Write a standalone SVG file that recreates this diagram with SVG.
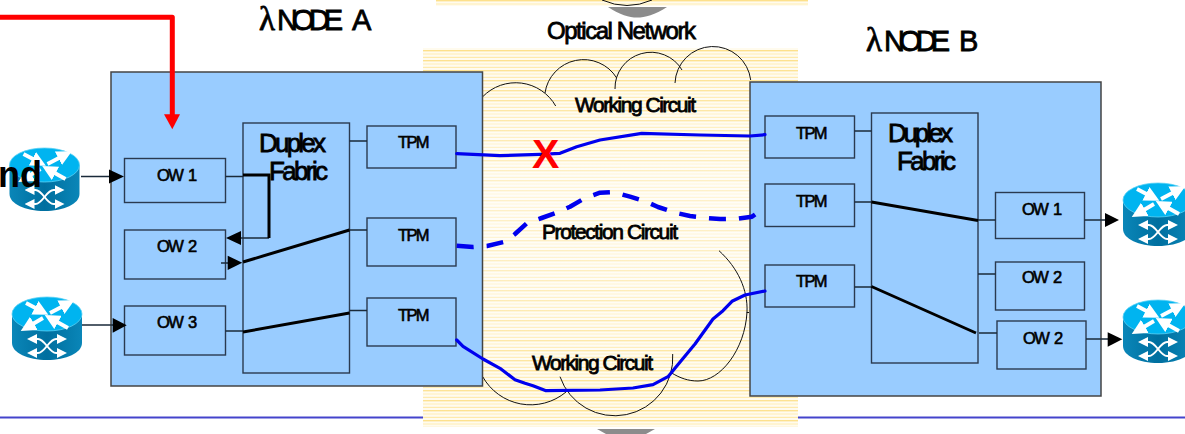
<svg xmlns="http://www.w3.org/2000/svg" width="1185" height="434" viewBox="0 0 1185 434">
<style>
text{font-family:"Liberation Sans",Arial,sans-serif;fill:#000;stroke:#000;stroke-width:.8px}
.node{fill:#99ccff;stroke:#444;stroke-width:1.5}
.box{fill:#99ccff;stroke:#2a3a50;stroke-width:1.4}
.thin{fill:none;stroke:#1a2a3a;stroke-width:1.3}
.thick{fill:none;stroke:#000;stroke-width:3}
.ar{fill:#000}
.arc{fill:none;stroke:#111;stroke-width:1}
.blue{fill:none;stroke:#0000ee;stroke-width:3.2;stroke-linejoin:round;stroke-linecap:round}
.sm{font-size:16.500px;letter-spacing:-1.700px;word-spacing:3px;stroke-width:.6px}
.md{font-size:21px}
.lg{font-size:26px}
.xl{font-size:29px}
.lam{font-family:"Liberation Serif",serif;font-size:33px}
</style>
<defs>
<pattern id="st" width="10" height="10" patternUnits="userSpaceOnUse">
<rect width="10" height="10" fill="#fffbee"/>
<rect y="0" width="10" height="1.4" fill="#fde08a"/>
<rect y="3.4" width="10" height="1.2" fill="#fff0bd"/>
<rect y="6.8" width="10" height="1.2" fill="#fee9a8"/>
</pattern>
<linearGradient id="fade" x1="0" y1="0" x2="0" y2="1">
<stop offset="0" stop-color="#fff" stop-opacity="0"/>
<stop offset=".38" stop-color="#fff" stop-opacity=".55"/>
<stop offset=".6" stop-color="#fff" stop-opacity=".45"/>
<stop offset="1" stop-color="#fff" stop-opacity="0"/>
</linearGradient>
<marker id="wa" markerWidth="4" markerHeight="4" refX="2.4" refY="2" orient="auto" markerUnits="strokeWidth"><path d="M0,0L4,2L0,4Z" fill="#fff"/></marker>
<marker id="wb" markerWidth="5" markerHeight="5" refX="2.5" refY="2.5" orient="auto-start-reverse" markerUnits="strokeWidth"><path d="M0,0L5,2.5L0,5Z" fill="#fff"/></marker>
<linearGradient id="side" x1="0" y1="0" x2="1" y2="0">
<stop offset="0" stop-color="#0a86b8"/><stop offset=".5" stop-color="#006f9f"/><stop offset="1" stop-color="#0a86b8"/>
</linearGradient>
<g id="router">
<path d="M0,17V46C0,56 16,63 35,63S70,56 70,46V17Z" fill="url(#side)"/>
<ellipse cx="35" cy="17" rx="35" ry="17" fill="#00b4f0" stroke="#5cd2f5" stroke-width=".8"/>
<g fill="none" stroke="#fff" stroke-width="3.8" marker-end="url(#wa)">
<path d="M14,6L31,15"/><path d="M38,16L57,6"/><path d="M31,21L14,31"/><path d="M56,31L38,21"/>
</g>
<g fill="none" stroke="#fff" stroke-width="2" marker-end="url(#wb)" marker-start="url(#wb)">
<path d="M20,42H26C33,42 37,56 44,56H50"/><path d="M20,56H26C33,56 37,42 44,42H50"/>
</g>
</g>
</defs>

<g id="optical-network">
<rect x="436" y="0" width="372" height="6" fill="url(#st)"/>
<rect x="423" y="48" width="375" height="379" fill="url(#st)"/>
<rect x="423" y="48" width="375" height="379" fill="url(#fade)"/>
<path d="M608,7H667C655,15 645,17.500 637,17.500C629,17.500 620,15 608,7Z" fill="#8c8c8c"/>
<path d="M597,429H655L646,434H606Z" fill="#8c8c8c"/>
<path class="arc" d="M602,0Q627,11 652,0"/>
<path class="arc" d="M482.700,96.700A46,46 0 0 1 555.700,106"/>
<path class="arc" d="M545,93A39,39 0 0 1 616.700,78"/>
<path class="arc" d="M615,89A36,36 0 0 1 682,70"/>
<path class="arc" d="M675,83A38,38 0 0 1 750.700,80"/>
<path class="arc" d="M719,250.700C738,268 748,290 747,312C745,350 720,381 698,381C688,381 680,378 671.700,373"/>
<path class="arc" d="M746.700,312.500H749"/>
<path class="arc" d="M672.700,354A58,58 0 0 1 560,376.700"/>
<path class="arc" d="M482.700,376.700A55,55 0 0 0 566,392"/>
</g>

<path d="M0,417.500H423M798,417.500H1185" fill="none" stroke="#4444cc" stroke-width="2"/>

<g id="node-a">
<rect class="node" x="111" y="72" width="371.500" height="314"/>
<text class="xl" x="259" y="29.500"><tspan class="lam">λ</tspan><tspan x="277" textLength="66" lengthAdjust="spacing">NODE</tspan> <tspan x="352">A</tspan></text>
</g>
<g id="fabric-a"><rect class="box" x="243" y="123" width="106.500" height="250"/>
<text class="lg" x="259" y="151.700" textLength="67" lengthAdjust="spacing">Duplex</text>
<text class="lg" x="269" y="180" textLength="59" lengthAdjust="spacing">Fabric</text></g>
<g id="a-ow1"><rect class="box" x="124.500" y="158.500" width="101" height="44"/><text class="sm" x="157" y="181">OW 1</text></g>
<g id="a-ow2"><rect class="box" x="124.500" y="230" width="101" height="49"/><text class="sm" x="157" y="251.700">OW 2</text></g>
<g id="a-ow3"><rect class="box" x="124.500" y="306" width="101" height="49"/><text class="sm" x="157" y="328">OW 3</text></g>
<g id="a-tpm1"><rect class="box" x="367" y="126" width="89" height="42"/><text class="sm" x="398" y="147.500">TPM</text></g>
<g id="a-tpm2"><rect class="box" x="367" y="218" width="89" height="48"/><text class="sm" x="398" y="240.700">TPM</text></g>
<g id="a-tpm3"><rect class="box" x="367" y="298" width="89" height="48"/><text class="sm" x="398" y="320.700">TPM</text></g>

<g id="node-b">
<rect class="node" x="750" y="82" width="351" height="314"/>
<text class="xl" x="866" y="50.700"><tspan class="lam">λ</tspan><tspan x="884" textLength="66" lengthAdjust="spacing">NODE</tspan> <tspan x="959">B</tspan></text>
</g>
<g id="fabric-b"><rect class="box" x="871.500" y="113" width="106.500" height="250"/>
<text class="lg" x="888" y="141.700" textLength="65" lengthAdjust="spacing">Duplex</text>
<text class="lg" x="897" y="170" textLength="59" lengthAdjust="spacing">Fabric</text></g>
<g id="b-tpm1"><rect class="box" x="765" y="116" width="89.500" height="42"/><text class="sm" x="796" y="139">TPM</text></g>
<g id="b-tpm2"><rect class="box" x="765" y="184" width="89.500" height="42.500"/><text class="sm" x="796" y="206.700">TPM</text></g>
<g id="b-tpm3"><rect class="box" x="765" y="265" width="89.500" height="42"/><text class="sm" x="796" y="286.700">TPM</text></g>
<g id="b-ow1"><rect class="box" x="995.500" y="192.500" width="89" height="46"/><text class="sm" x="1022" y="215">OW 1</text></g>
<g id="b-ow2"><rect class="box" x="995.500" y="262" width="89" height="48"/><text class="sm" x="1022" y="283.300">OW 2</text></g>
<g id="b-ow2b"><rect class="box" x="997" y="321" width="89" height="48"/><text class="sm" x="1023" y="344">OW 2</text></g>

<g id="router-1"><use href="#router" x="9.500" y="148"/></g>
<g id="router-2"><use href="#router" x="12" y="297"/></g>
<g id="router-3"><use href="#router" x="1123" y="183"/></g>
<g id="router-4"><use href="#router" x="1123" y="300"/></g>

<g id="connectors">
<path class="thin" d="M81,176.500H110M225.500,176.500H243M349.500,141H367M221,263H228M225.500,331H243M349.500,230H367M349.500,310.500H367M82,325H113M240,238H269M854.500,131H871.500M854.500,202H871.500M978,220H995.500M1084.500,220H1105M854.500,287H871.500M979,333H997M1086,339H1108M978,274H995.500"/>
<path class="thick" d="M243,175H269V238"/>
<path class="thick" d="M243,262L349.500,230M243,332L349.500,313M871.500,202L978,220.500M871.500,286.500L976,333"/>
<path class="ar" d="M109,169.500V183.500L124,176.500Z"/>
<path class="ar" d="M226,238L241,231V245Z"/>
<path class="ar" d="M227.700,255.700V270L242.300,262.700Z"/>
<path class="ar" d="M112.700,318V332.700L126.700,325.300Z"/>
<path class="ar" d="M1105,213V227L1119,220Z"/>
<path class="ar" d="M1107.700,332.300V346.700L1122.300,339.300Z"/>
<path d="M0,17.300H172.300V116" fill="none" stroke="#ff0000" stroke-width="5" stroke-linejoin="round"/>
<path d="M164,114.300H180L172.300,129.300Z" fill="#ff0000"/>
<polyline class="blue" points="456.700,153.700 500,155.700 540,154.300 560,153.300 576.700,146.700 600,140 641.700,133.300 700,135 750,136 765,134.700"/>
<polyline class="blue" style="stroke-width:4.500;stroke-linecap:butt;stroke-dasharray:17 13" points="456.700,245.700 473,247 487,246 505,241.700 515,234 527,223 541.700,218 556,213 570,206.700 585,198 600,192.700 613,192 630,196.700 647,202 658,207 675,212.700 690,216 707,218 720,219 737,218.700 752,216.700 763,209"/>
<polyline class="blue" points="456.700,340 463,346.300 483,359 500,368.300 515,379.700 525,383.300 533,385.700 546,390.700 600,390 633,388 653,384.700 668,376.700 677,365.700 695,344 713,319 723,310.700 732,301.300 745,295 765,291"/>
</g>

<g id="labels">
<text style="font-size:24px" x="547" y="39" textLength="149" lengthAdjust="spacing">Optical Network</text>
<text class="md" x="575" y="112" textLength="121" lengthAdjust="spacing">Working Circuit</text>
<text class="md" x="542" y="239" textLength="136" lengthAdjust="spacing">Protection Circuit</text>
<text class="md" x="532" y="370" textLength="121" lengthAdjust="spacing">Working Circuit</text>
<text x="532" y="168" style="font-size:41px;font-weight:bold;fill:#ff0000;stroke:none">X</text>
<text x="42" y="187" text-anchor="end" style="font-size:36px;font-weight:bold;stroke:none">nd</text>
</g>
</svg>
